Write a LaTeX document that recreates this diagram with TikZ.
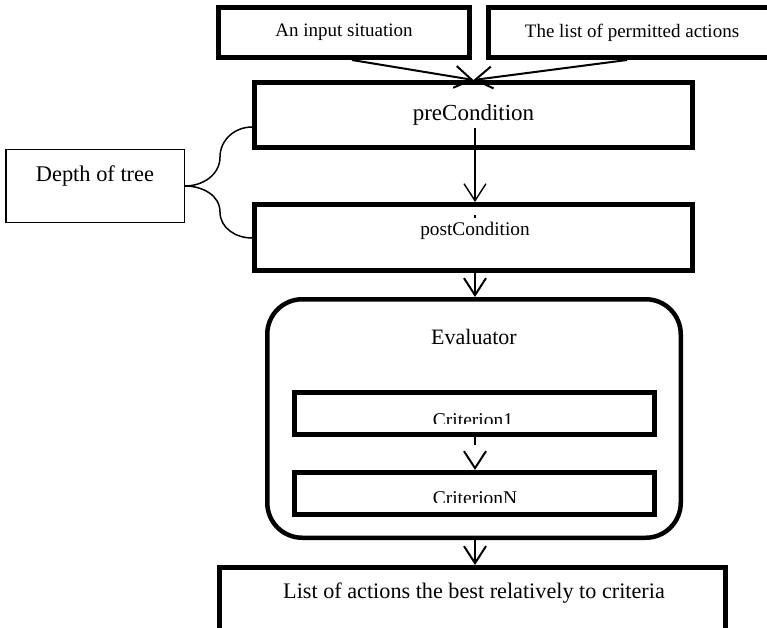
\documentclass[tikz,border=0pt]{standalone}
\usepackage{fontspec}
\setmainfont{Liberation Serif}
\usetikzlibrary{arrows.meta,positioning,calc}

\begin{document}
\begin{tikzpicture}[x=1pt, y=1pt,
  caja/.style={draw, line width=5pt, inner sep=0pt, minimum height=50pt},
  crit/.style={draw, line width=5pt, inner sep=0pt, minimum width=360pt, minimum height=42pt},
  txt/.style={inner sep=0pt, anchor=base},
  flow/.style={-{Straight Barb[length=17pt, width=22pt]}, line width=2pt},
  brace/.style={line width=1.5pt}]
\useasboundingbox (0,0) rectangle (767,-628);

% entradas
\node[caja, minimum width=251pt, font=\fontsize{19}{23}\selectfont] (in1) at (344,-32.5) {An input situation};
\node[caja, minimum width=287pt, font=\fontsize{19}{23}\selectfont] (in2) at (632,-32.5) {The list of permitted actions};

\node[caja, minimum width=438pt, minimum height=65pt, font=\fontsize{23}{27}\selectfont] (pre) at (473.5,-115) {preCondition};
\node[caja, minimum width=438pt, minimum height=66pt] (post) at (473.5,-237.5) {};
\node[txt, font=\fontsize{19.3}{23}\selectfont] (postt) at ($(post.center)+(1.5,2.5)$) {postCondition};

\node[draw, line width=1.5pt, minimum width=178.5pt, minimum height=72.5pt] (prof) at (95,-186) {};
\node[txt, font=\fontsize{22.4}{26}\selectfont] (proft) at ($(prof.center)+(0,4)$) {Depth of tree};

% evaluador
\node[draw, line width=4.5pt, rounded corners=35pt, minimum width=413.5pt, minimum height=238.5pt] (ev) at (474,-418.5) {};
\node[txt, font=\fontsize{22}{26}\selectfont] (evt) at ($(ev.north)+(0,-47)$) {Evaluator};

\node[crit] (c1) at (474.5,-413.5) {};
\node[crit] (cN) at (474.5,-493.5) {};
\begin{scope}
  \clip (292,-380) rectangle (657,-423);
  \node[txt, font=\fontsize{19.5}{23}\selectfont] (c1t) at (473,-426) {Criterion1};
\end{scope}
\begin{scope}
  \clip (292,-460) rectangle (657,-502);
  \node[txt, font=\fontsize{19.5}{23}\selectfont] (cNt) at (475,-504) {CriterionN};
\end{scope}

\node[draw, line width=5pt, minimum width=506pt, minimum height=112.5pt] (out) at (472.5,-623.75) {};
\node[txt, font=\fontsize{22.2}{26}\selectfont] (outt) at (474,-598) {List of actions the best relatively to criteria};

% conexiones
\draw[flow] ($(in1.south)+(8,0)$) -- (pre.north);
\draw[flow] ($(in2.south)+(-5,0)$) -- (pre.north);
\draw[flow, line width=1.4pt] ($(pre.center)+(1.5,-13)$) -- ($(post.north)+(1.5,0)$);
\draw[line width=1.4pt] ($(post.north)+(1.5,-13)$) -- ++(0,-3);
\draw[flow] ($(post.south)+(1.5,0)$) -- ($(ev.north)+(1,0)$);
\draw[flow, dash pattern=on 8pt off 40pt] ($(c1.south)+(0.5,0)$) -- ($(cN.north)+(0.5,0)$);
\draw[flow] ($(ev.south)+(1,0)$) -- ($(out.north)+(2.5,0)$);

\draw[brace] (prof.east) to[out=0, in=-90] (220,-157) to[out=90, in=180] ($(pre.south west)+(0,23)$);
\draw[brace] (prof.east) to[out=0, in=90] (220,-212) to[out=-90, in=180] ($(post.west)+(0,-0.5)$);
\end{tikzpicture}
\end{document}
